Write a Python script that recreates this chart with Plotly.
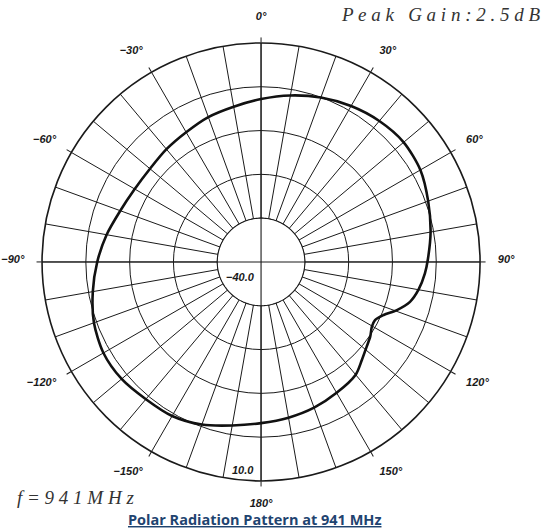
import plotly.graph_objects as go

# Angles (deg, clockwise from top) and gain (dB)
theta_deg = [0, 10, 20, 30, 40, 50, 60, 70, 80, 89, 94, 100, 105, 109.5, 113.4, 117, 120.3,
             124.4, 128.7, 134.2, 140, 150, 160, 170, 180, 190, 200, 210, 220, 230, 240,
             250, 260, 270, 280, 290, 300, 310, 320, 330, 340, 350, 360]
gain_db = [-2.8, -1.4, -0.05, 1.1, 2.0, 2.5, 2.0, 0.6, -0.7, -1.9, -2.5, -3.5, -4.8, -7.1,
           -9.5, -10.8, -10.7, -9.8, -9.1, -7.9, -6.4, -5.5, -4.6, -3.9, -3.2, -2.1, -0.5,
           0.6, 0.9, 1.55, 1.55, 0.6, -1.0, -2.6, -4.2, -5.8, -6.7, -6.9, -6.4, -5.8, -4.8,
           -4.0, -2.8]

radial_ticks = [-30, -20, -10, 0, 10]
grid_angles = list(range(0, 360, 10))
label_angles = [0, 30, 60, 90, 120, 150, 180, 210, 240, 270, 300, 330]
label_text = ["0°", "30°", "60°", "90°", "120°", "150°", "180°",
              "−150°", "−120°", "−90°", "−60°", "−30°"]
r_min, r_max = -40, 10
hole_level = -30

ink = "#1a1a1a"
dom_x = [0.077, 0.881]
dom_y = [0.0925, 0.919]
lab_shift = 3 / 530
dom_y_lab = [dom_y[0] + lab_shift, dom_y[1] + lab_shift]

fig = go.Figure()

# white inner disk (covers spokes inside -30 dB ring)
disk_theta = list(range(0, 361, 2))
fig.add_trace(go.Scatterpolar(r=[hole_level] * len(disk_theta), theta=disk_theta,
                              mode="lines", fill="toself", fillcolor="white",
                              line=dict(color=ink, width=1.1), hoverinfo="skip",
                              showlegend=False, subplot="polar"))
# crosshair through centre
for a in [0, 90]:
    fig.add_trace(go.Scatterpolar(r=[r_max, r_min, r_max], theta=[a, a, a + 180],
                                  mode="lines", line=dict(color=ink, width=1.1),
                                  hoverinfo="skip", showlegend=False, subplot="polar"))

# pattern
fig.add_trace(go.Scatterpolar(r=gain_db, theta=theta_deg, mode="lines",
                              line=dict(color="#111111", width=2.6, shape="spline",
                                        smoothing=0.8),
                              showlegend=False, subplot="polar"))

# invisible traces for the label / tick overlays
for sp in ["polar2", "polar3"]:
    fig.add_trace(go.Scatterpolar(r=[r_min], theta=[0], mode="markers",
                                  marker=dict(opacity=0), hoverinfo="skip",
                                  showlegend=False, subplot=sp))

tick_font = dict(family="Liberation Sans", size=11, color=ink, style="italic", weight="bold")

fig.update_layout(
    width=545, height=530,
    margin=dict(l=0, r=0, t=0, b=0),
    paper_bgcolor="white",
    polar=dict(
        domain=dict(x=dom_x, y=dom_y),
        bgcolor="white",
        radialaxis=dict(range=[r_min, r_max], tickvals=radial_ticks, showticklabels=False,
                        ticks="", showline=False, gridcolor=ink, gridwidth=1.1,
                        layer="below traces"),
        angularaxis=dict(direction="clockwise", rotation=90, tickvals=grid_angles,
                         showticklabels=False, ticks="", showline=True, linecolor=ink,
                         linewidth=1.6, gridcolor=ink, gridwidth=1.1, layer="below traces"),
    ),
    polar2=dict(
        domain=dict(x=dom_x, y=dom_y_lab),
        bgcolor="rgba(0,0,0,0)",
        radialaxis=dict(range=[r_min, r_max], visible=False),
        angularaxis=dict(direction="clockwise", rotation=90, tickvals=label_angles,
                         ticktext=label_text, ticks="outside", ticklen=15,
                         tickcolor="rgba(0,0,0,0)", showgrid=False, showline=False,
                         tickfont=tick_font),
    ),
    polar3=dict(
        domain=dict(x=dom_x, y=dom_y),
        bgcolor="rgba(0,0,0,0)",
        radialaxis=dict(range=[r_min, r_max], visible=False),
        angularaxis=dict(direction="clockwise", rotation=90, tickvals=label_angles,
                         showticklabels=False, ticks="outside", ticklen=5, tickcolor=ink,
                         tickwidth=1.1, showgrid=False, showline=False),
    ),
)

ann_font = dict(family="Liberation Sans", size=11, color=ink, style="italic", weight="bold")
fig.add_annotation(text="−40.0", x=240 / 545, y=1 - 277 / 530, xref="paper", yref="paper",
                   xanchor="center", yanchor="middle", showarrow=False, font=ann_font)
fig.add_annotation(text="10.0", x=243 / 545, y=1 - 470 / 530, xref="paper", yref="paper",
                   xanchor="center", yanchor="middle", showarrow=False, font=ann_font)

serif = dict(family="Liberation Serif", size=19, color="#333333", style="italic")
fig.add_annotation(text="P e a k   G a i n : 2 . 5 d B", x=542 / 545, y=1 - 15 / 530,
                   xref="paper", yref="paper", xanchor="right", yanchor="middle",
                   showarrow=False, font=serif)
fig.add_annotation(text="f = 9 4 1 M H z", x=15 / 545, y=1 - 497 / 530,
                   xref="paper", yref="paper", xanchor="left", yanchor="middle",
                   showarrow=False, font=serif)

fig.add_annotation(text="<u>Polar Radiation Pattern at 941 MHz</u>", x=255 / 545,
                   y=1 - 519 / 530, xref="paper", yref="paper", xanchor="center",
                   yanchor="middle", showarrow=False,
                   font=dict(family="Open Sans", size=14.5, color="#1f4470", weight=700))

fig.write_html("out.html", config={"displayModeBar": False},
               post_script="document.body.style.margin='0px';")
